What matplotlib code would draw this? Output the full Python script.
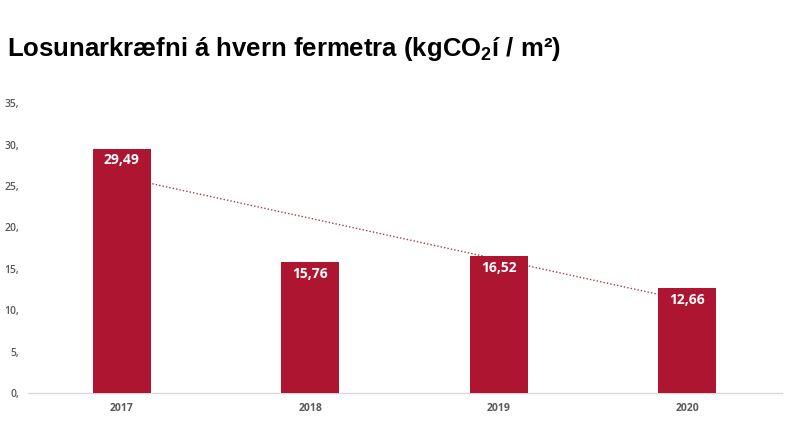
import numpy as np
import matplotlib.pyplot as plt

plt.rcParams["mathtext.fontset"] = "custom"
plt.rcParams["mathtext.rm"] = "Liberation Sans:bold"
plt.rcParams["mathtext.it"] = "Liberation Sans:bold"
plt.rcParams["mathtext.bf"] = "Liberation Sans:bold"

# Data
years = ["2017", "2018", "2019", "2020"]
values = [29.49, 15.76, 16.52, 12.66]
value_labels = ["29,49", "15,76", "16,52", "12,66"]
y_ticks = [0, 5, 10, 15, 20, 25, 30, 35]

bar_color = "#ae1530"
grey = "#595959"

fig = plt.figure(figsize=(8, 4.46), dpi=100)
ax = fig.add_axes([0.0344, 0.1188, 0.9425, 0.650])

x = np.arange(len(years))
ax.bar(x, values, width=0.31, color=bar_color, zorder=3)

# Linear trendline (drawn behind the bars)
slope, intercept = np.polyfit(x, values, 1)
ax.plot(x, intercept + slope * x, linestyle=(0, (1, 1.5)), color="#a83a48",
        linewidth=1.0, zorder=2)

# Data labels inside the top of each bar
for xi, v, lab in zip(x, values, value_labels):
    ax.text(xi, v - 0.55, lab, ha="center", va="top", color="white",
            fontsize=10, fontweight="bold", family="Open Sans", zorder=4)

ax.set_xlim(-0.5, len(years) - 0.5)
ax.set_ylim(0, 35)
ax.set_xticks(x)
ax.set_xticklabels(years, fontsize=7.5, fontweight="bold", color=grey, family="Open Sans")
ax.set_yticks(y_ticks)
ax.set_yticklabels([f"{t}," for t in y_ticks], fontsize=7.5, color=grey,
                   family="Open Sans", fontweight="semibold")
ax.tick_params(axis="both", length=0)
ax.tick_params(axis="x", pad=7)
ax.tick_params(axis="y", pad=6)

for s in ["top", "right", "left"]:
    ax.spines[s].set_visible(False)
ax.spines["bottom"].set_color("#d9d9d9")
ax.spines["bottom"].set_linewidth(1)

fig.text(0.009, 0.874, "Losunarkræfni á hvern fermetra (kgCO$_2$í / m²)",
         fontsize=18.5, fontweight="bold", color="black",
         family=["Liberation Sans", "DejaVu Sans"], ha="left", va="baseline")

fig.savefig("out.png", dpi=100)
